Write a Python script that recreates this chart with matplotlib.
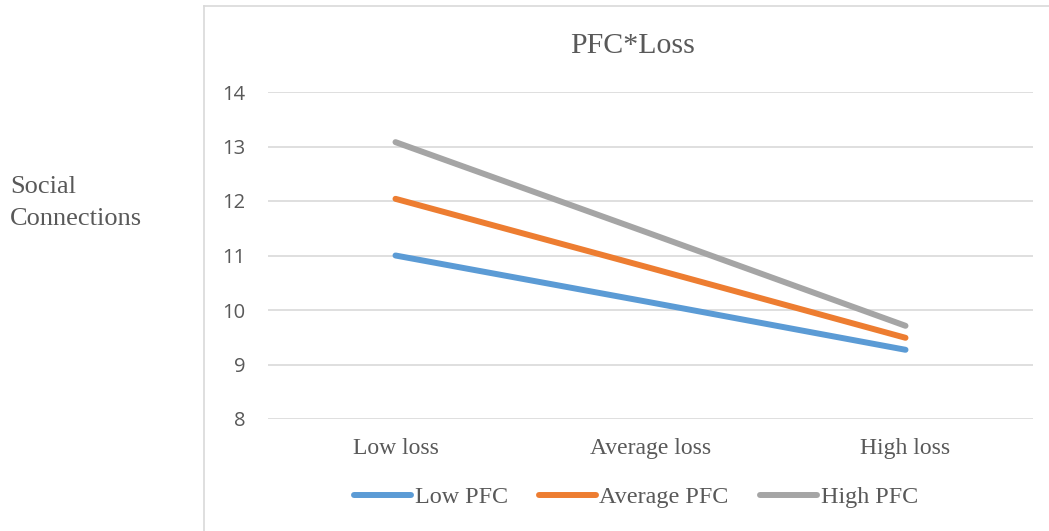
import numpy as np
import matplotlib.pyplot as plt
from matplotlib.lines import Line2D

categories = ['Low loss', 'Average loss', 'High loss']
low_pfc = [11.00, 10.14, 9.27]
average_pfc = [12.04, 10.77, 9.49]
high_pfc = [13.08, 11.40, 9.71]
series_names = ['Low PFC', 'Average PFC', 'High PFC']
colors = ['#5b9bd5', '#ed7d31', '#a5a5a5']
yticks = [8, 9, 10, 11, 12, 13, 14]

W, H = 1049, 531
serif = ['Liberation Serif', 'DejaVu Serif']
sans = ['Open Sans', 'DejaVu Sans']
txt = '#595959'
grid_c = '#d9d9d9'

fig = plt.figure(figsize=(W / 100, H / 100), dpi=100)

# chart area border (left and top edges only are visible)
fig.add_artist(Line2D([204 / W, 204 / W], [0, 1 - 6 / H], color=grid_c, lw=1.2))
fig.add_artist(Line2D([204 / W, 1], [1 - 6 / H, 1 - 6 / H], color=grid_c, lw=1.2))

ax = fig.add_axes([268 / W, 1 - 419 / H, (1033 - 268) / W, (419 - 92) / H])
x = np.arange(len(categories)) + 0.5
for vals, name, c in zip([low_pfc, average_pfc, high_pfc], series_names, colors):
    ax.plot(x, vals, color=c, lw=4.3, solid_capstyle='round', label=name)

ax.set_xlim(0, 3)
ax.set_ylim(8, 14)
ax.set_yticks(yticks)
ax.set_xticks(x)
ax.set_xticklabels(categories, family=serif, fontsize=17, color=txt)
ax.set_yticklabels([str(v) for v in yticks], family=sans, fontsize=14.5, color=txt)
ax.tick_params(axis='y', length=0, pad=16)
ax.tick_params(axis='x', length=0, pad=14)
ax.grid(axis='y', color=grid_c, lw=1.2)
ax.set_axisbelow(True)
for s in ax.spines.values():
    s.set_visible(False)

fig.text(633 / W, 1 - 46 / H, 'PFC*Loss', family=serif, fontsize=21.5, color=txt,
         ha='center', va='center')
fig.text(10 / W, 1 - 203 / H, 'Social\nConnections', family=serif, fontsize=19,
         color=txt, ha='left', va='center', linespacing=1.55)

leg = fig.legend(loc='center', bbox_to_anchor=(636 / W, 1 - 497 / H), ncol=3,
                 frameon=False, prop={'family': serif, 'size': 17.4},
                 handlelength=2.35, handletextpad=0.15, columnspacing=1.3)
for t in leg.get_texts():
    t.set_color(txt)

fig.savefig('out.png', dpi=100)
